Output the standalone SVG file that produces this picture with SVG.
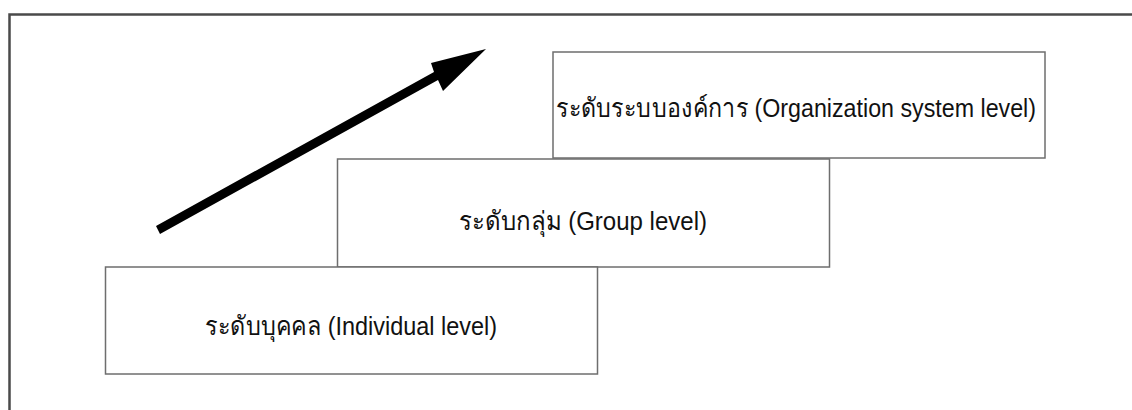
<svg xmlns="http://www.w3.org/2000/svg" width="1132" height="410" viewBox="0 0 1132 410">
<style>
.frame{fill:none;stroke:#4a4a4a;stroke-width:2.5}
.box{fill:#fff;stroke:#6e6e6e;stroke-width:1.5}
.lbl{font-family:"Liberation Sans","Noto Sans",sans-serif;font-size:26px;fill:#111}
</style>
<rect width="1132" height="410" fill="#fff"/>
<path class="frame" d="M9.5,410 V14.5 H1132"/>
<g id="connectors">
<polygon fill="#000" points="156,226 160,234 438,80 443,91 486,49 431,63 434,72"/>
</g>
<g id="org">
<rect class="box" x="553" y="52" width="492" height="106"/>
<text class="lbl" x="556" y="117" textLength="480" lengthAdjust="spacingAndGlyphs">ระดับระบบองค์การ (Organization system level)</text>
</g>
<g id="group">
<rect class="box" x="337.5" y="159" width="492" height="108"/>
<text class="lbl" x="459" y="230" textLength="248" lengthAdjust="spacingAndGlyphs">ระดับกลุ่ม (Group level)</text>
</g>
<g id="individual">
<rect class="box" x="105.5" y="267" width="492" height="107"/>
<text class="lbl" x="205" y="335" textLength="292" lengthAdjust="spacingAndGlyphs">ระดับบุคคล (Individual level)</text>
</g>
</svg>
